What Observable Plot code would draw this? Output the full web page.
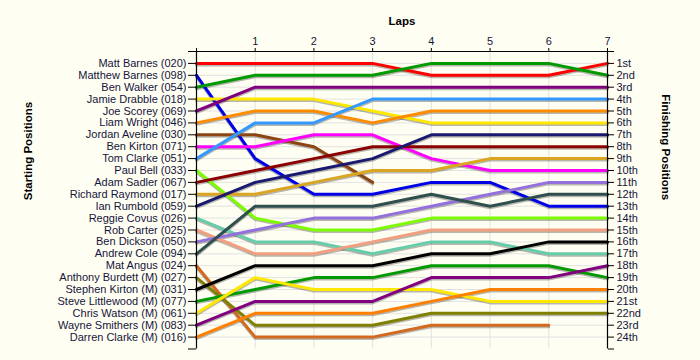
<!DOCTYPE html>
<html>
<head>
<meta charset="utf-8">
<script src="https://cdn.jsdelivr.net/npm/d3@7"></script>
<script src="https://cdn.jsdelivr.net/npm/@observablehq/plot@0.6"></script>
<style>
  html, body { margin: 0; padding: 0; background: #fffef2; }
</style>
</head>
<body>
<div id="chart"></div>
<script>
const laps = [0, 1, 2, 3, 4, 5, 6, 7];

const drivers = [
  "Matt Barnes (020)", "Matthew Barnes (098)", "Ben Walker (054)", "Jamie Drabble (018)",
  "Joe Scorey (069)", "Liam Wright (046)", "Jordan Aveline (030)", "Ben Kirton (071)",
  "Tom Clarke (051)", "Paul Bell (033)", "Adam Sadler (067)", "Richard Raymond (017)",
  "Ian Rumbold (059)", "Reggie Covus (026)", "Rob Carter (025)", "Ben Dickson (050)",
  "Andrew Cole (094)", "Mat Angus (024)", "Anthony Burdett (M) (027)", "Stephen Kirton (M) (031)",
  "Steve Littlewood (M) (077)", "Chris Watson (M) (061)", "Wayne Smithers (M) (083)", "Darren Clarke (M) (016)"
];

const lineColors = [
  "#ff0000", "#0000e6", "#009a00", "#ffe800",
  "#800080", "#ff8c00", "#8b4513", "#ff00ff",
  "#3399ff", "#7cfc00", "#8b0000", "#daa520",
  "#191970", "#66cdaa", "#f0a080", "#9370db",
  "#2f4f4f", "#d2691e", "#808000", "#000000",
  "#009a00", "#ffe800", "#800080", "#ff8000"
];

// Position of each driver after each lap (null = retired)
const lapPositions = [
  [1, 1, 1, 1, 2, 2, 2, 1],
  [2, 9, 12, 12, 11, 11, 13, 13],
  [3, 2, 2, 2, 1, 1, 1, 2],
  [4, 4, 4, 5, 6, 6, 6, 6],
  [5, 3, 3, 3, 3, 3, 3, 3],
  [6, 5, 5, 6, 5, 5, 5, 5],
  [7, 7, 8, 11, null, null, null, null],
  [8, 8, 7, 7, 9, 10, 10, 10],
  [9, 6, 6, 4, 4, 4, 4, 4],
  [10, 14, 15, 15, 14, 14, 14, 14],
  [11, 10, 9, 8, 8, 8, 8, 8],
  [12, 12, 11, 10, 10, 9, 9, 9],
  [13, 11, 10, 9, 7, 7, 7, 7],
  [14, 16, 16, 17, 16, 16, 17, 17],
  [15, 17, 17, 16, 15, 15, 15, 15],
  [16, 15, 14, 14, 13, 12, 11, 11],
  [17, 13, 13, 13, 12, 13, 12, 12],
  [18, 24, 24, 24, 23, 23, 23, null],
  [19, 23, 23, 23, 22, 22, 22, 22],
  [20, 18, 18, 18, 17, 17, 16, 16],
  [21, 20, 19, 19, 18, 18, 18, 19],
  [22, 19, 20, 20, 20, 21, 21, 21],
  [23, 21, 21, 21, 19, 19, 19, 18],
  [24, 22, 22, 22, 21, 20, 20, 20]
];

const finishLabels = [
  "1st", "2nd", "3rd", "4th", "5th", "6th", "7th", "8th", "9th", "10th", "11th", "12th",
  "13th", "14th", "15th", "16th", "17th", "18th", "19th", "20th", "21st", "22nd", "23rd", "24th"
];

const rows = [];
drivers.forEach((name, i) => {
  laps.forEach((lap, j) => {
    const p = lapPositions[i][j];
    if (p != null) rows.push({driver: name, lap, pos: p});
  });
});

const posTicks = d3.range(0, 26);
const textColor = "#14143c";

const chart = Plot.plot({
  width: 700,
  height: 360,
  marginLeft: 196,
  marginRight: 93,
  marginTop: 51,
  marginBottom: 11.5,
  style: {background: "#fffef2", fontFamily: "'Liberation Sans', Arial, sans-serif", fontSize: "11px", color: textColor},
  x: {domain: [0, 7]},
  y: {domain: [0, 25], reverse: true},
  color: {domain: drivers, range: lineColors},
  marks: [
    Plot.ruleY(d3.range(1, 25), {x1: 0, x2: 7, stroke: "#e2e2e2", strokeWidth: 1}),
    Plot.ruleX(d3.range(1, 7), {y1: 0, y2: 25, stroke: "#e2e2e2", strokeWidth: 1}),
    Plot.line(rows, {x: "lap", y: "pos", z: "driver", stroke: "#000", strokeOpacity: 0.28, strokeWidth: 3, dy: 1.5, strokeLinejoin: "miter", curve: "linear"}),
    Plot.line(rows, {x: "lap", y: "pos", z: "driver", stroke: "driver", strokeWidth: 3, strokeLinejoin: "miter", curve: "linear"}),
    Plot.ruleX([0, 7], {y1: 0, y2: 25, stroke: "#000", strokeWidth: 1.2}),
    Plot.ruleY([0], {x1: 0, x2: 7, stroke: "#000", strokeWidth: 1.2}),
    Plot.axisX(laps, {anchor: "top", tickSize: 4, tickPadding: 3, tickFormat: d => d === 0 ? "" : String(d), label: null, fontSize: 11, stroke: "#000"}),
    Plot.axisY(posTicks, {anchor: "left", tickSize: 8, tickPadding: 2, tickFormat: d => drivers[d - 1] ?? "", label: null, fontSize: 11, stroke: "#000"}),
    Plot.axisY(posTicks, {anchor: "right", tickSize: 6, tickPadding: 3, tickFormat: d => finishLabels[d - 1] ?? "", label: null, fontSize: 11, stroke: "#000"}),
    Plot.text(["Laps"], {frameAnchor: "top", dy: -35, fontWeight: "bold", fontSize: 11.5, fill: "#000"}),
    Plot.text(["Starting Positions"], {frameAnchor: "left", dx: -168, rotate: -90, fontWeight: "bold", fontSize: 11.5, fill: "#000"}),
    Plot.text(["Finishing Positions"], {frameAnchor: "right", dx: 58, rotate: 90, fontWeight: "bold", fontSize: 11.5, fill: "#000"})
  ]
});

document.getElementById("chart").appendChild(chart);
</script>
</body>
</html>
